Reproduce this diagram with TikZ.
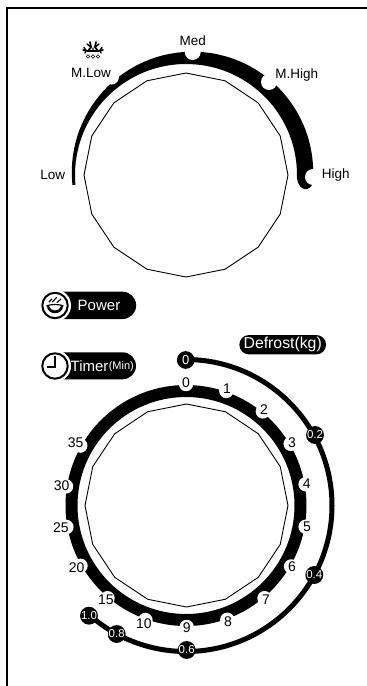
\documentclass[tikz,border=0pt]{standalone}
\usepackage{fontspec}
\setmainfont{Liberation Sans}
\tikzset{
  lbl/.style={font=\fontsize{13.5}{14}\selectfont,inner sep=0pt,text=black},
  ticklbl/.style={font=\fontsize{14}{15}\selectfont,inner sep=0pt,text=black},
  knob/.style={circle,fill=black,minimum size=17.7pt,inner sep=0pt,text=white,font=\fontsize{11.5}{12}\selectfont},
  dialpoly/.style={draw=black,line width=0.9pt,line join=miter},
  pill/.style={fill=black},
  pilltxt/.style={text=white,inner sep=0pt},
  frameline/.style={draw=black,line width=1.1pt},
  iconring/.style={draw=black,fill=white,line width=2pt},
  iconln/.style={draw=black,line width=1.3pt,line cap=round}
}
\begin{document}
\begin{tikzpicture}[x=1pt,y=1pt]
\useasboundingbox (0,0) rectangle (367,-686);
% frame
\draw[frameline] (7,-686) -- (7,-8) -- (367,-8);
% top dial
\fill[black] ([shift={(192.5,-172.4)}]186:120.7) arc[start angle=186,end angle=-5,radius=120.7]
  .. controls (311,-191) and (299,-193) .. ([shift={(186,-175)}]-1.5:111)
  arc[start angle=-1.5,end angle=185,radius=111] -- cycle;
\fill[white] (111.5,-77) circle[radius=7.5];
\fill[white] (192.7,-52) circle[radius=8];
\fill[white] (269,-82) circle[radius=8];
\fill[white] (313,-177) circle[radius=8];
\draw[dialpoly] plot[samples=17,domain=90:450] ({186+102*cos(\x)},{-175+102*sin(\x)}) -- cycle;
\node[lbl] (low) at (52.7,-175) {Low};
\node[lbl] (mlow) at (91,-73.3) {M.Low};
\node[lbl] (med) at (192.7,-41) {Med};
\node[lbl] (mhigh) at (296.7,-75) {M.High};
\node[lbl] (high) at (335.7,-175) {High};
% snowflake
\begin{scope}[shift={(93,-50)}]
  \draw[iconln,line width=1.7pt] (-10,0) -- (-5,-1) -- (5,-1) -- (10,0);
  \draw[iconln,line width=1.7pt] (-5,-1) -- (-2,3) -- (-3,8) (5,-1) -- (2,3) -- (3,8);
  \draw[iconln,line width=1.4pt] (-2,3) -- (-6,6) (2,3) -- (6,6) (0,-1) -- (0,2) (-7,-.5) -- (-9,2.5) (7,-.5) -- (9,2.5) (-7,-.5) -- (-8,-3) (7,-.5) -- (8,-3);
  \draw[black,line width=.6pt] (-5,-6.5) circle[radius=1.7] (0,-6.5) circle[radius=1.7] (5,-6.5) circle[radius=1.7];
\end{scope}
% power
\fill[pill] (55,-291.7) -- (122.5,-291.7) arc[start angle=90,end angle=-90,radius=13.65] -- (55,-319) -- cycle;
\draw[draw=white,fill=white,line width=1pt] (55,-305.5) circle[radius=15.5];
\draw[iconring] (55,-305.5) circle[radius=12.7];
\begin{scope}[shift={(55,-305.5)}]
  \fill[black] (-8,-0.5) .. controls (-8,-10) and (8,-10) .. (8,-0.5) -- (6,-0.5) .. controls (5,-6.5) and (-5,-6.5) .. (-6,-0.5) -- cycle;
  \draw[black,line width=1.2pt] (-8.5,-0.5) .. controls (-5,1.5) and (5,1.5) .. (8.5,-0.5);
  \draw[iconln,line width=1.1pt] (-6,3.5) -- (-3,6.5) (-2.5,3.5) -- (1.5,8) (2,3) -- (6,6.5);
\end{scope}
\node[pilltxt,font=\fontsize{15}{16}\selectfont] (power) at (99,-305) {Power};
% timer
\fill[pill] (55,-352.3) -- (122.5,-352.3) arc[start angle=90,end angle=-90,radius=13.5] -- (55,-379.3) -- cycle;
\draw[draw=white,fill=white,line width=1pt] (55,-366) circle[radius=15.5];
\draw[iconring] (55,-366) circle[radius=12.7];
\draw[black,line width=1.8pt] (55,-355.5) -- (55,-367) -- (47,-367);
\node[pilltxt,anchor=west,font=\fontsize{15}{16}\selectfont] (timer) at (70.5,-366) {Timer};
\node[pilltxt,anchor=west,font=\fontsize{11}{12}\selectfont] (tmin) at (108.6,-366.8) {(Min)};
% defrost pill
\node[draw=none,fill=black,rounded corners=9.6pt,minimum width=86.7pt,minimum height=19.3pt,inner sep=0pt,text=white,font=\fontsize{15.8}{16}\selectfont] (defrost) at (282.7,-344.7) {Defrost(kg)};
% bottom dial ring
\fill[black,even odd rule] (186,-505.5) circle[radius=120.5] (186,-505.5) circle[radius=108.5];
\foreach \lab/\lx/\ly in {0/186/383,1/227/389,2/264/410,3/292/443,4/306.7/484,5/307/527,6/292/567,7/266/600,8/228/621.7,9/186.7/628,10/144/624,15/106/600,20/76.7/568,25/61/528,30/61.7/485.7,35/75.7/443}{
  \pgfmathsetmacro\ang{atan2(505.5-\ly,\lx-186)}
  \fill[white] ([shift={(186,-505.5)}]\ang:121.5) circle[radius=7.2];
}
\foreach \lab/\lx/\ly in {0/186/383,1/227/389,2/264/410,3/292/443,4/306.7/484,5/307/527,6/292/567,7/266/600,8/228/621.7,9/186.7/628,10/144/624,15/106/600,20/76.7/568,25/61/528,30/61.7/485.7,35/75.7/443}{
  \node[ticklbl] (t\lab) at (\lx,-\ly) {\lab};
}
\draw[dialpoly] plot[samples=17,domain=90:450] ({186.5+101.5*cos(\x)},{-505.5+101.5*sin(\x)}) -- cycle;
% defrost arc
\draw[black,line width=5pt] ([shift={(186,-505.5)}]90:146) arc[start angle=90,end angle=-131,radius=146];
\node[knob,font=\fontsize{13}{14}\selectfont] (d00) at (185.7,-360) {0};
\node[knob] (d02) at (315,-435) {0.2};
\node[knob] (d04) at (314.3,-575) {0.4};
\node[knob] (d06) at (186.7,-650) {0.6};
\node[knob] (d08) at (116.7,-634) {0.8};
\node[knob] (d10) at (89,-615.7) {1.0};
\end{tikzpicture}
\end{document}
